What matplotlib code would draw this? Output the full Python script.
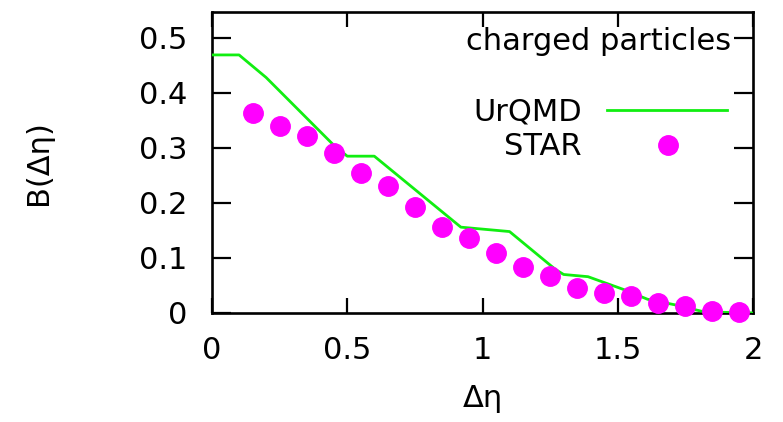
import matplotlib
matplotlib.use("Agg")
import matplotlib.pyplot as plt

plt.rcParams['font.family'] = ['DejaVu Sans']

# Data
star_x = [0.15, 0.25, 0.35, 0.45, 0.55, 0.65, 0.75, 0.85, 0.95, 1.05,
          1.15, 1.25, 1.35, 1.45, 1.55, 1.65, 1.75, 1.85, 1.95]
star_y = [0.363, 0.339, 0.321, 0.291, 0.255, 0.231, 0.192, 0.157, 0.136, 0.109,
          0.084, 0.067, 0.045, 0.036, 0.031, 0.018, 0.013, 0.004, 0.001]

urqmd_x = [0.0, 0.1, 0.2, 0.45, 0.5, 0.6, 0.92, 1.1, 1.27, 1.3, 1.39,
           1.52, 1.61, 1.71, 1.82, 2.0]
urqmd_y = [0.469, 0.469, 0.428, 0.305, 0.285, 0.285, 0.156, 0.148, 0.079,
           0.070, 0.066, 0.043, 0.025, 0.015, 0.002, 0.0]

x_ticks = [0, 0.5, 1, 1.5, 2]
x_tick_labels = ["0", "0.5", "1", "1.5", "2"]
y_ticks = [0, 0.1, 0.2, 0.3, 0.4, 0.5]
y_tick_labels = ["0", "0.1", "0.2", "0.3", "0.4", "0.5"]

W, H = 783, 422
fig = plt.figure(figsize=(W / 100, H / 100), dpi=100)
L, R, T, B = 212, 753, 12, 313
ax = fig.add_axes([L / W, 1 - B / H, (R - L) / W, (B - T) / H])

green = '#11ee11'
magenta = '#ff00ff'

ax.plot(urqmd_x, urqmd_y, color=green, lw=2.0, zorder=3)
ax.plot(star_x, star_y, 'o', color=magenta, ms=14, mec=magenta, zorder=4,
        clip_on=False)

ax.set_xlim(0, 2)
ax.set_ylim(0, 0.547)
ax.set_xticks(x_ticks)
ax.set_xticklabels(x_tick_labels)
ax.set_yticks(y_ticks)
ax.set_yticklabels(y_tick_labels)

for s in ax.spines.values():
    s.set_linewidth(1.9)
ax.tick_params(axis='x', direction='in', length=10.5, width=1.6, top=True,
               labelsize=22, pad=16.5)
ax.tick_params(axis='y', direction='in', length=13.7, width=1.6, right=True,
               labelsize=22, pad=18)


def px(xp, yp):
    return xp / W, 1 - yp / H


# axis labels
fig.text(*px(483, 407), 'Δη', ha='center', va='baseline', fontsize=22)
fig.text(*px(39, 163), 'B(Δη)', ha='center', va='center', rotation=90,
         fontsize=22)

# key
fig.text(*px(731, 50), 'charged particles', ha='right', va='baseline',
         fontsize=22)
fig.text(*px(582, 121), 'UrQMD', ha='right', va='baseline', fontsize=22)
fig.text(*px(582, 155), 'STAR', ha='right', va='baseline', fontsize=22)


def axc(xp, yp):
    return (xp - L) / (R - L), (B - yp) / (B - T)


lx0, ly = axc(607, 110)
lx1, _ = axc(727, 110)
ax.plot([lx0, lx1], [ly, ly], color=green, lw=2.0, transform=ax.transAxes,
        clip_on=False)
mx, my = axc(668, 145)
ax.plot([mx], [my], 'o', color=magenta, ms=14, transform=ax.transAxes,
        clip_on=False)

fig.savefig('out.png', dpi=100)
